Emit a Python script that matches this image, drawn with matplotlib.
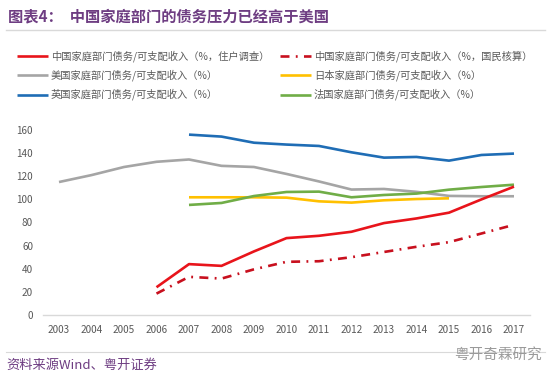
import matplotlib
matplotlib.use("Agg")
import matplotlib.pyplot as plt
from matplotlib.lines import Line2D

plt.rcParams['font.family'] = ['Noto Sans CJK SC', 'DejaVu Sans']

years = list(range(2003, 2018))

cn_survey_years = list(range(2006, 2018))
cn_survey = [24, 44, 42.5, 55, 66.5, 68.5, 72, 79.5, 83.5, 88.5, 100, 111]

cn_national_years = list(range(2006, 2018))
cn_national = [18.5, 33, 31.5, 39.5, 46, 46.5, 50, 54.5, 59, 63, 70.5, 78]

us_years = list(range(2003, 2018))
us = [115, 121, 128, 132.5, 134.5, 129, 128, 122, 115.5, 108.5, 109, 106.5, 103, 102.7, 102.7]

jp_years = list(range(2007, 2016))
jp = [101.8, 101.8, 101.8, 101.5, 98.3, 97.2, 99.2, 100.3, 100.9]

uk_years = list(range(2007, 2018))
uk = [156, 154.3, 149, 147.4, 146.2, 140.7, 136.1, 136.7, 133.5, 138.4, 139.6]

fr_years = list(range(2007, 2018))
fr = [95.2, 96.9, 102.9, 106.4, 106.7, 101.8, 103.8, 105, 108.4, 110.7, 112.7]

labels = {
    'cn_survey': '中国家庭部门债务/可支配收入（%，住户调查）',
    'cn_national': '中国家庭部门债务/可支配收入（%，国民核算）',
    'us': '美国家庭部门债务/可支配收入（%）',
    'jp': '日本家庭部门债务/可支配收入（%）',
    'uk': '英国家庭部门债务/可支配收入（%）',
    'fr': '法国家庭部门债务/可支配收入（%）',
}

title = '图表4：  中国家庭部门的债务压力已经高于美国'
source = '资料来源Wind、粤开证券'
watermark = '粤开奇霖研究'

c_red = '#e8141b'
c_dred = '#c8101e'
c_gray = '#a5a5a5'
c_yellow = '#ffc000'
c_blue = '#1f6db5'
c_green = '#70ad47'
purple = '#6e3d82'
txt = '#595959'

W, H = 550, 376
fig = plt.figure(figsize=(5.5, 3.76), dpi=100)
fig.patch.set_facecolor('white')

ax = fig.add_axes([42.75 / W, 1 - 315 / H, (530.25 - 42.75) / W, (315 - 130) / H])
lw = 1.9
ax.plot(us_years, us, color=c_gray, lw=lw, solid_capstyle='butt')
ax.plot(uk_years, uk, color=c_blue, lw=lw, solid_capstyle='butt')
ax.plot(jp_years, jp, color=c_yellow, lw=lw, solid_capstyle='butt')
ax.plot(fr_years, fr, color=c_green, lw=lw, solid_capstyle='butt')
ax.plot(cn_survey_years, cn_survey, color=c_red, lw=lw, solid_capstyle='butt')
ax.plot(cn_national_years, cn_national, color=c_dred, lw=lw,
        dashes=[3.4, 2.4, 0.7, 2.4])

ax.set_xlim(2002.5, 2017.5)
ax.set_ylim(0, 160)
ax.set_yticks(range(0, 161, 20))
ax.set_xticks(years)
ax.set_xticklabels([str(y) for y in years])
for s in ['top', 'right', 'left']:
    ax.spines[s].set_visible(False)
ax.spines['bottom'].set_color('#d9d9d9')
ax.spines['bottom'].set_linewidth(1.0)
ax.tick_params(axis='both', length=0, labelsize=7.2, labelcolor=txt)
ax.tick_params(axis='x', pad=7)
ax.tick_params(axis='y', pad=7)

# title
fig.text(8 / W, 1 - 16 / H, title, fontsize=11, fontweight='bold', color=purple,
         va='center', ha='left')
fig.add_artist(Line2D([6 / W, 545 / W], [1 - 30 / H, 1 - 30 / H], color='#d9d9d9', lw=1))

# legend (manual)
legend_items = [
    ('cn_survey', c_red, '-', 17, 56),
    ('cn_national', c_dred, 'dd', 280, 56),
    ('us', c_gray, '-', 17, 75),
    ('jp', c_yellow, '-', 280, 75),
    ('uk', c_blue, '-', 17, 94.5),
    ('fr', c_green, '-', 280, 94.5),
]
for key, col, ls, x0, y0 in legend_items:
    yy = 1 - y0 / H
    if ls == 'dd':
        ln = Line2D([x0 / W, (x0 + 31) / W], [yy, yy], color=col, lw=lw,
                    dashes=[3.4, 2.4, 0.7, 2.4])
    else:
        ln = Line2D([x0 / W, (x0 + 31) / W], [yy, yy], color=col, lw=lw,
                    solid_capstyle='butt')
    fig.add_artist(ln)
    fig.text((x0 + 34) / W, yy, labels[key], fontsize=7.4, color=txt,
             va='center', ha='left')

# footer
fig.add_artist(Line2D([6 / W, 545 / W], [1 - 352 / H, 1 - 352 / H], color='#d9d9d9', lw=0.8))
fig.text(6 / W, 1 - 365 / H, source, fontsize=9.5, color=purple, style='italic',
         va='center', ha='left')
fig.text(454 / W, 1 - 355 / H, watermark, fontsize=10.5, color='#9a9a9a',
         va='center', ha='left')

fig.savefig('out.png', dpi=100, facecolor='white')
